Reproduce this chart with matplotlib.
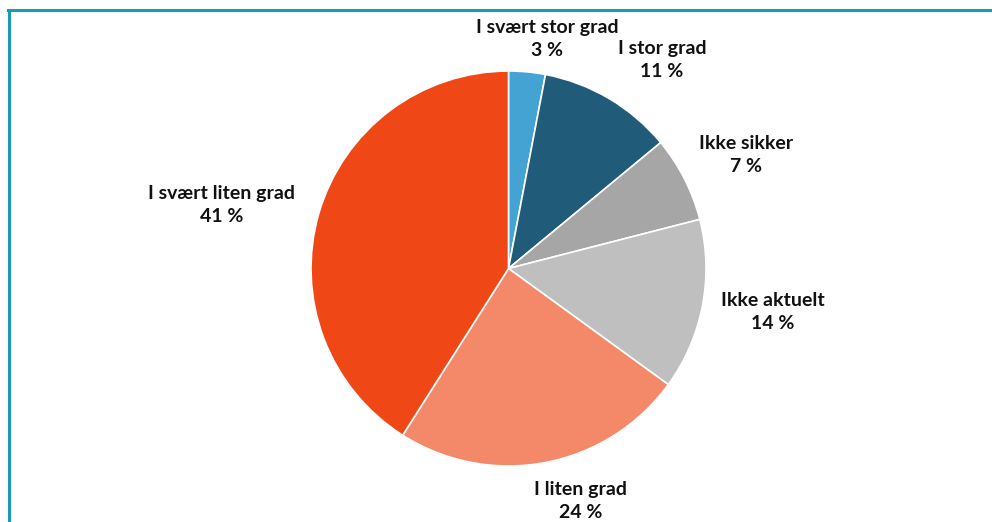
import matplotlib.pyplot as plt
from matplotlib.lines import Line2D

categories = ['I svært stor grad', 'I stor grad', 'Ikke sikker',
              'Ikke aktuelt', 'I liten grad', 'I svært liten grad']
shares = [3, 11, 7, 14, 24, 41]
colors = ['#45a3d4', '#215b7a', '#a6a6a6', '#bfbfbf', '#f4896a', '#f04716']

# label centres in pixel space (x from left, y from top)
label_pos = [(547, 39), (662, 60), (746, 155), (773, 312), (581, 501), (222, 205)]

W, H = 992, 522
fig = plt.figure(figsize=(W / 100, H / 100), dpi=100)
ax = fig.add_axes([0, 0, 1, 1])

ax.pie(shares, colors=colors, startangle=90, counterclock=False,
       center=(508.5, H - 268.5), radius=197.5,
       wedgeprops=dict(edgecolor='white', linewidth=1.2))

# pie() sets its own limits, so fix them afterwards
ax.set_xlim(0, W)
ax.set_ylim(0, H)
ax.set_aspect('equal')
ax.axis('off')

for cat, val, (x, y) in zip(categories, shares, label_pos):
    ax.text(x, H - y, f'{cat}\n{val} %', ha='center', va='center',
            fontsize=14, fontweight='bold', family='Lato', color='#111111',
            linespacing=1.46)

# frame lines along the top and left edges
fig.add_artist(Line2D([8 / W, 1], [1 - 9.5 / H, 1 - 9.5 / H], color='#1a9bb5', lw=2.2))
fig.add_artist(Line2D([9 / W, 9 / W], [0, 1 - 9.5 / H], color='#1a9bb5', lw=2.2))

fig.savefig('out.png', dpi=100, facecolor='white')
